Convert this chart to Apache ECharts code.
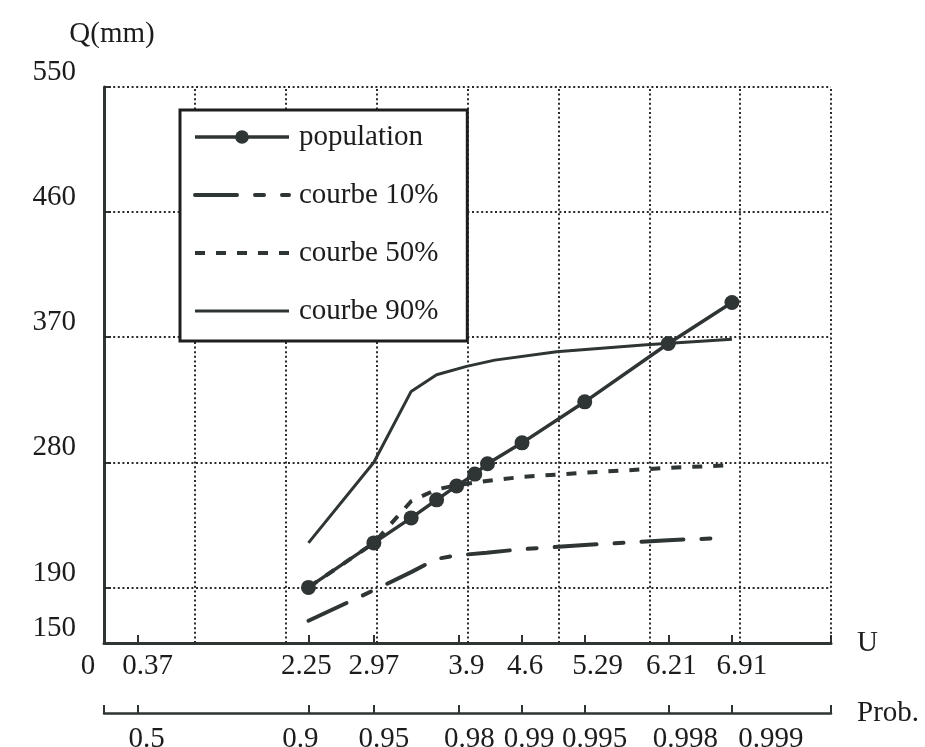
<!DOCTYPE html>
<html>
<head>
<meta charset="utf-8">
<script src="https://cdn.jsdelivr.net/npm/echarts@6/dist/echarts.min.js"></script>
<style>
  html, body { margin: 0; padding: 0; background: #fff; }
  #chart { width: 925px; height: 747px; }
</style>
</head>
<body>
<div id="chart"></div>
<script>
// Gumbel reduced variate U on the x axis, discharge Q (mm) on the y axis.
const uTicks = [0, 0.37, 2.25, 2.97, 3.9, 4.6, 5.29, 6.21, 6.91];
const uTickLabels = ['0', '0.37', '2.25', '2.97', '3.9', '4.6', '5.29', '6.21', '6.91'];
const probTicks = [0.37, 2.25, 2.97, 3.9, 4.6, 5.29, 6.21, 6.91];
const probTickLabels = ['0.5', '0.9', '0.95', '0.98', '0.99', '0.995', '0.998', '0.999'];
const qTicks = [150, 190, 280, 370, 460, 550];
const uGrid = [1, 2, 3, 4, 5, 6, 7, 8];
const qGrid = [190, 280, 370, 460, 550];

// Observed population
const uPop = [2.25, 2.97, 3.38, 3.66, 3.88, 4.08, 4.22, 4.6, 5.29, 6.21, 6.91];
const qPop = [190, 222, 240, 253, 263, 271.5, 279, 294, 323.5, 365.5, 395];

// Confidence curves
const u10 = [2.25, 2.97, 3.38, 3.66, 3.88, 4.21, 4.6, 5.29, 6.21, 6.82];
const q10 = [166, 188, 201, 210.5, 213, 215, 217.5, 220.5, 224, 225.5];

const u50 = [2.25, 2.97, 3.38, 3.66, 3.88, 4.21, 4.6, 5.29, 6.21, 6.91];
const q50 = [190, 222, 252, 260.5, 263.5, 266.5, 269.5, 272.5, 276, 278];

const u90 = [2.25, 2.97, 3.38, 3.66, 3.99, 4.30, 4.98, 5.97, 6.91];
const q90 = [222, 280, 331, 343, 349, 353.5, 359.5, 364.5, 368.5];

const pairs = (xs, ys) => xs.map((x, i) => [x, ys[i]]);
const near = (arr, v) => arr.findIndex(a => Math.abs(a - v) < 1e-6);

const INK = '#2f3434';
const TEXT = '#1c1c1c';
const FONT = 'Liberation Serif';
const FS = 29;

// hand-set horizontal nudges (px) of the tick labels relative to their ticks
const uLabelNudge = [-16, 10, -2, 0, 8, 3, 13, 3, 10];
const probLabelNudge = [9, -8, 10, 11, 7, 10, 17, 39];

function nudgeRich(nudges) {
  const rich = {};
  nudges.forEach((n, i) => {
    rich['s' + i] = {
      fontFamily: FONT, fontSize: FS, color: TEXT,
      padding: [0, n < 0 ? -2 * n : 0, 0, n > 0 ? 2 * n : 0]
    };
  });
  return rich;
}

function tickFormatter(values, labels) {
  return v => {
    const i = near(values, v);
    return i < 0 ? '' : '{s' + i + '|' + labels[i] + '}';
  };
}

const gridLines = [
  ...uGrid.map(u => ({ xAxis: u })),
  ...qGrid.map(q => ({ yAxis: q }))
];

// legend entries: plain curves show only their line sample, no marker
const noMarker = { color: 'rgba(0,0,0,0)', borderWidth: 0, opacity: 0 };

const chart = echarts.init(document.getElementById('chart'), null, { renderer: 'canvas' });

chart.setOption({
  backgroundColor: '#ffffff',
  animation: false,
  textStyle: { fontFamily: FONT, color: TEXT },
  grid: { left: 104, top: 87, right: 94, bottom: 104, containLabel: false, outerBoundsMode: 'none' },
  legend: {
    data: [
      { name: 'population' },
      { name: 'courbe 10%', itemStyle: noMarker },
      { name: 'courbe 50%', itemStyle: noMarker },
      { name: 'courbe 90%', itemStyle: noMarker }
    ],
    orient: 'vertical',
    left: 180,
    top: 110,
    itemWidth: 94,
    itemHeight: 17,
    itemGap: 28,
    padding: [12, 29, 15, 13],
    borderColor: '#1e1e1e',
    borderWidth: 3,
    backgroundColor: '#ffffff',
    z: 10,
    lineStyle: { width: 'inherit', type: 'inherit' },
    textStyle: { fontFamily: FONT, fontSize: FS, color: TEXT, lineHeight: 30, padding: [0, 0, 0, 5] }
  },
  xAxis: [
    {
      type: 'value',
      min: 0,
      max: 8,
      position: 'bottom',
      name: 'U',
      nameLocation: 'end',
      nameGap: 26,
      nameTextStyle: { fontFamily: FONT, fontSize: FS, color: TEXT, padding: [0, 0, 18, 0] },
      axisLine: { show: true, onZero: false, lineStyle: { color: INK, width: 3 } },
      axisTick: { show: true, inside: true, length: 8, customValues: uTicks.slice(1).concat([8]), lineStyle: { color: INK, width: 2 } },
      axisLabel: {
        customValues: uTicks,
        hideOverlap: false,
        margin: 9,
        fontFamily: FONT,
        fontSize: FS,
        color: TEXT,
        formatter: tickFormatter(uTicks, uTickLabels),
        rich: nudgeRich(uLabelNudge)
      },
      splitLine: { show: false }
    },
    {
      type: 'value',
      min: 0,
      max: 8,
      position: 'bottom',
      offset: 70,
      name: 'Prob.',
      nameLocation: 'end',
      nameGap: 26,
      nameTextStyle: { fontFamily: FONT, fontSize: FS, color: TEXT, padding: [0, 0, 14, 0] },
      axisLine: { show: true, onZero: false, lineStyle: { color: INK, width: 2.5 } },
      axisTick: { show: true, inside: true, length: 8, customValues: [0].concat(probTicks, [8]), lineStyle: { color: INK, width: 2 } },
      axisLabel: {
        customValues: probTicks,
        hideOverlap: false,
        margin: 12,
        fontFamily: FONT,
        fontSize: FS,
        color: TEXT,
        formatter: tickFormatter(probTicks, probTickLabels),
        rich: nudgeRich(probLabelNudge)
      },
      splitLine: { show: false }
    }
  ],
  yAxis: {
    type: 'value',
    min: 150,
    max: 550,
    name: 'Q(mm)',
    nameLocation: 'end',
    nameGap: 38,
    nameTextStyle: { fontFamily: FONT, fontSize: FS, color: TEXT, align: 'center', padding: [0, 0, 0, 16] },
    axisLine: { show: true, onZero: false, lineStyle: { color: INK, width: 3 } },
    axisTick: { show: true, inside: true, length: 7, customValues: qTicks.slice(1), lineStyle: { color: INK, width: 2 } },
    axisLabel: {
      customValues: qTicks,
      hideOverlap: false,
      margin: 28,
      verticalAlign: 'bottom',
      fontFamily: FONT,
      fontSize: FS,
      color: TEXT,
      formatter: v => String(v)
    },
    splitLine: { show: false }
  },
  series: [
    {
      name: 'grid',
      type: 'line',
      data: [],
      silent: true,
      z: 1,
      markLine: {
        silent: true,
        symbol: ['none', 'none'],
        z: 1,
        label: { show: false },
        emphasis: { disabled: true },
        lineStyle: { color: '#2a2a2a', width: 2, type: [2, 2.6] },
        data: gridLines
      }
    },
    {
      name: 'courbe 10%',
      type: 'line',
      data: pairs(u10, q10),
      symbol: 'none',
      z: 3,
      itemStyle: { color: INK },
      lineStyle: { color: INK, width: 4, type: [42, 18, 9, 18], cap: 'round' }
    },
    {
      name: 'courbe 50%',
      type: 'line',
      data: pairs(u50, q50),
      symbol: 'none',
      z: 3,
      itemStyle: { color: INK },
      lineStyle: { color: INK, width: 4, type: [10, 11] }
    },
    {
      name: 'courbe 90%',
      type: 'line',
      data: pairs(u90, q90),
      symbol: 'none',
      z: 3,
      itemStyle: { color: INK },
      lineStyle: { color: INK, width: 3 }
    },
    {
      name: 'population',
      type: 'line',
      data: pairs(uPop, qPop),
      symbol: 'circle',
      symbolSize: 15,
      z: 4,
      itemStyle: { color: INK },
      lineStyle: { color: INK, width: 3.5 }
    }
  ]
});
</script>
</body>
</html>
